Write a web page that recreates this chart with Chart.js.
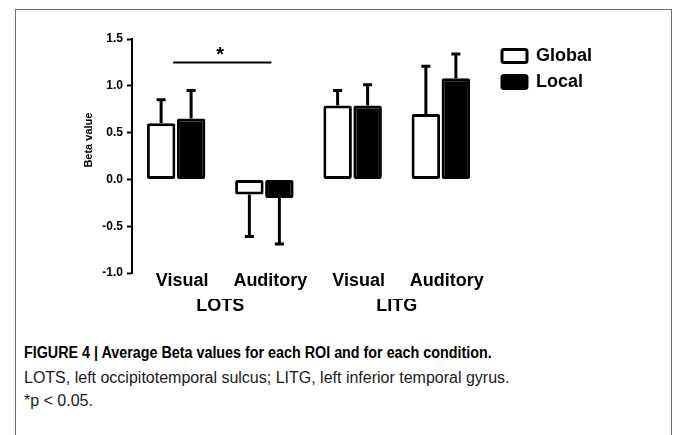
<!DOCTYPE html>
<html lang="en">
  <head>
    <meta charset="UTF-8" />
    <title>Figure 4</title>
    <script src="https://cdn.jsdelivr.net/npm/chart.js"></script>
    <style>
      body { margin: 0; background: #fff; }
      #frame {
        position: absolute; left: 15px; top: 9px; width: 655px; height: 440px;
        border: 1px solid #6e6e6e; border-bottom: none;
      }
      #chartBox { position: absolute; left: 16px; top: 10px; width: 654px; height: 320px; }
      .cap {
        position: absolute; left: 24px; font-family: "Liberation Sans", Arial, sans-serif;
        font-size: 16px; color: #1a1a1a; white-space: nowrap; transform-origin: 0 0;
      }
      #cap1 { top: 344px; font-weight: bold; color: #000; transform: scaleX(0.895); }
      #cap2 { top: 369px; }
      #cap3 { top: 392px; }
    </style>
  </head>
  <body>
    <div id="frame"></div>
    <div id="chartBox"><canvas id="myChart" width="654" height="320"></canvas></div>
    <div class="cap" id="cap1">FIGURE 4 | Average Beta values for each ROI and for each condition.</div>
    <div class="cap" id="cap2">LOTS, left occipitotemporal sulcus; LITG, left inferior temporal gyrus.</div>
    <div class="cap" id="cap3">*p &lt; 0.05.</div>

    <script>
      // data
      var conditions = ["Visual", "Auditory", "Visual", "Auditory"];
      var regions = ["LOTS", "LITG"];
      var globalBeta = [0.60, -0.16, 0.79, 0.70];
      var localBeta = [0.65, -0.20, 0.79, 1.08];
      var globalErr = [0.25, 0.45, 0.16, 0.51];
      var localErr = [0.30, 0.49, 0.22, 0.26];
      var yTicks = [-1.0, -0.5, 0.0, 0.5, 1.0, 1.5];
      var sigPair = [0, 1];
      var sigLevel = 1.25;
      var sigMark = "*";

      var errorBars = {
        id: "errorBars",
        afterDatasetsDraw: function (chart) {
          var ctx = chart.ctx;
          var y = chart.scales.y;
          var errs = [globalErr, localErr];
          ctx.save();
          ctx.strokeStyle = "#000";
          ctx.lineWidth = 3;
          chart.data.datasets.forEach(function (ds, i) {
            var meta = chart.getDatasetMeta(i);
            meta.data.forEach(function (bar, j) {
              var v = ds.data[j];
              var end = v >= 0 ? v + errs[i][j] : v - errs[i][j];
              var py = y.getPixelForValue(end);
              ctx.beginPath();
              ctx.moveTo(bar.x, y.getPixelForValue(v));
              ctx.lineTo(bar.x, py);
              ctx.moveTo(bar.x - 4.5, py);
              ctx.lineTo(bar.x + 4.5, py);
              ctx.stroke();
            });
          });
          ctx.restore();
        },
      };

      var extras = {
        id: "extras",
        afterDraw: function (chart) {
          var ctx = chart.ctx;
          var x = chart.scales.x;
          var y = chart.scales.y;
          ctx.save();
          // significance line
          var ly = y.getPixelForValue(sigLevel);
          var x1 = x.getPixelForValue(sigPair[0]) - 3;
          var x2 = x.getPixelForValue(sigPair[1]) + 7;
          ctx.strokeStyle = "#000";
          ctx.lineWidth = 2;
          ctx.beginPath();
          ctx.moveTo(x1, ly);
          ctx.lineTo(x2, ly);
          ctx.stroke();
          ctx.fillStyle = "#000";
          ctx.font = "bold 20px 'Liberation Sans', Arial";
          ctx.textAlign = "center";
          ctx.textBaseline = "alphabetic";
          ctx.fillText(sigMark, (x.getPixelForValue(sigPair[0]) + x.getPixelForValue(sigPair[1])) / 2, ly - 1);
          // y axis title
          ctx.translate(73, y.getPixelForValue(0.42));
          ctx.rotate(-Math.PI / 2);
          ctx.font = "bold 11px 'Liberation Sans', Arial";
          ctx.textBaseline = "middle";
          ctx.fillText("Beta value", 0, 0);
          ctx.restore();
        },
      };

      var ctx = document.getElementById("myChart").getContext("2d");
      var myChart = new Chart(ctx, {
        type: "bar",
        data: {
          labels: conditions,
          datasets: [
            {
              label: "Global",
              data: globalBeta,
              backgroundColor: "#fff",
              borderColor: "#000",
              borderWidth: 3,
              borderRadius: 2,
              borderSkipped: false,
            },
            {
              label: "Local",
              data: localBeta,
              backgroundColor: "#000",
              borderColor: "#000",
              borderWidth: 3,
              borderRadius: 2,
              borderSkipped: false,
            },
          ],
        },
        options: {
          responsive: false,
          animation: false,
          categoryPercentage: 0.68,
          barPercentage: 0.95,
          layout: { padding: { top: 29, left: 0, right: 68, bottom: 7 } },
          plugins: {
            tooltip: { enabled: false },
            legend: {
              position: "right",
              align: "start",
              fullSize: false,
              maxWidth: 140,
              labels: {
                boxWidth: 25,
                boxHeight: 13,
                padding: 8,
                color: "#000",
                useBorderRadius: true,
                borderRadius: 2,
                font: { family: "'Liberation Sans', Arial", size: 18, weight: "bold" },
              },
            },
          },
          scales: {
            x: {
              grid: { display: false },
              border: { display: false },
              ticks: {
                color: "#000",
                padding: -11,
                labelOffset: 6,
                maxRotation: 0,
                font: { family: "'Liberation Sans', Arial", size: 18, weight: "bold" },
              },
              afterFit: function (s) { s.height = 26; },
            },
            x2: {
              type: "category",
              labels: regions,
              position: "bottom",
              grid: { display: false },
              border: { display: false },
              ticks: {
                color: "#000",
                padding: -12,
                font: { family: "'Liberation Sans', Arial", size: 18, weight: "bold" },
              },
              afterFit: function (s) { s.height = 24; },
            },
            y: {
              min: -1,
              max: 1.5,
              afterBuildTicks: function (s) {
                s.ticks = yTicks.map(function (v) { return { value: v }; });
              },
              grid: { display: true, drawOnChartArea: false, tickLength: 5, tickWidth: 2, tickColor: "#000" },
              border: { display: true, color: "#000", width: 2 },
              ticks: {
                color: "#000",
                padding: 4,
                font: { family: "'Liberation Sans', Arial", size: 12, weight: "bold" },
                callback: function (v) { return v.toFixed(1); },
              },
              afterFit: function (s) { s.width = 116; },
            },
            yR: {
              type: "linear",
              position: "right",
              grid: { display: false },
              border: { display: false },
              ticks: { display: false },
              afterFit: function (s) { s.width = 9; },
            },
          },
        },
        plugins: [errorBars, extras],
      });
    </script>
  </body>
</html>
